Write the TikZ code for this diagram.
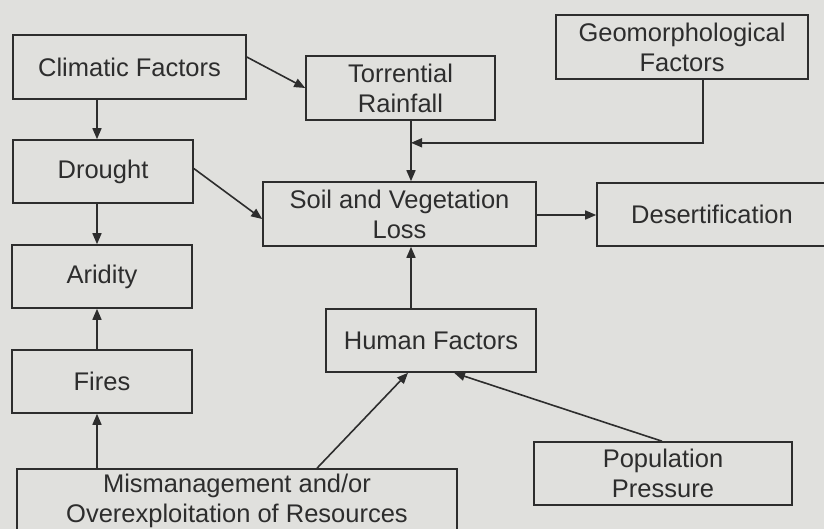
\documentclass[tikz,border=0pt]{standalone}
\usepackage{fontspec}
\setmainfont{Liberation Sans}
\usetikzlibrary{arrows.meta}
\definecolor{paper}{RGB}{224,224,221}
\definecolor{ink}{RGB}{45,45,45}
\begin{document}
\begin{tikzpicture}[x=1pt,y=-1pt,
  box/.style={draw=ink, line width=1.6pt, text=ink, align=center, inner sep=0pt,
    font=\fontsize{25.5}{30}\selectfont},
  arr/.style={draw=ink, line width=1.6pt, -{Triangle[length=11pt,width=9pt]}}]
  % page
  \fill[paper] (0,0) rectangle (824,529);
  \useasboundingbox (0,0) rectangle (824,529);

  % boxes
  \node[box, minimum width=233pt, minimum height=64pt] (clim) at (129.5,67) {Climatic Factors};
  \node[box, minimum width=189pt, minimum height=64pt] (torr) at (400.5,88) {Torrential\\Rainfall};
  \node[box, minimum width=252pt, minimum height=64pt] (geo) at (682,47) {Geomorphological\\Factors};
  \node[box, minimum width=180pt, minimum height=63pt] (drought) at (103,171.5) {Drought};
  \node[box, minimum width=273pt, minimum height=64pt] (soil) at (399.5,214) {Soil and Vegetation\\Loss};
  \node[box, minimum width=230pt, minimum height=63pt] (desert) at (712,214.5) {Desertification};
  \node[box, minimum width=180pt, minimum height=63pt] (arid) at (102,276.5) {Aridity};
  \node[box, minimum width=210pt, minimum height=63pt] (human) at (431,340.5) {Human Factors};
  \node[box, minimum width=180pt, minimum height=63pt] (fires) at (102,381.5) {Fires};
  \node[box, minimum width=440pt, minimum height=64pt] (mis) at (237,501) {Mismanagement and/or\\Overexploitation of Resources};
  \node[box, minimum width=258pt, minimum height=63pt] (pop) at (663,473.5) {Population\\Pressure};

  % left column
  \draw[arr] ([xshift=-32.5pt]clim.south) -- ([xshift=-6pt]drought.north);
  \draw[arr] ([xshift=-6pt]drought.south) -- ([xshift=-5pt]arid.north);
  \draw[arr] ([xshift=-5pt]fires.north) -- ([xshift=-5pt]arid.south);
  \draw[arr] ([xshift=-140pt]mis.north) -- ([xshift=-5pt]fires.south);

  % into soil and vegetation loss
  \draw[arr] ([yshift=10pt]clim.east) -- (torr.west);
  \draw[arr] ([yshift=3pt]drought.east) -- ([yshift=-5pt]soil.west);
  \draw[arr] ([xshift=10.5pt]torr.south) -- ([xshift=11.5pt]soil.north);
  \coordinate (join) at ([xshift=10.5pt,yshift=-22pt]torr.south);
  \draw[arr] ([xshift=21pt]geo.south) |- (join);
  \draw[arr] ([xshift=-20pt]human.north) -- ([xshift=-20pt]human.north |- soil.south);
  \draw[arr] ([yshift=-1pt]soil.east) -- ([yshift=-0.5pt]desert.west);

  % into human factors
  \draw[arr] ([xshift=80pt]mis.north) -- ([xshift=-23pt]human.south);
  \draw[arr] ([xshift=-1pt]pop.north) -- ([xshift=23pt]human.south);
\end{tikzpicture}
\end{document}
